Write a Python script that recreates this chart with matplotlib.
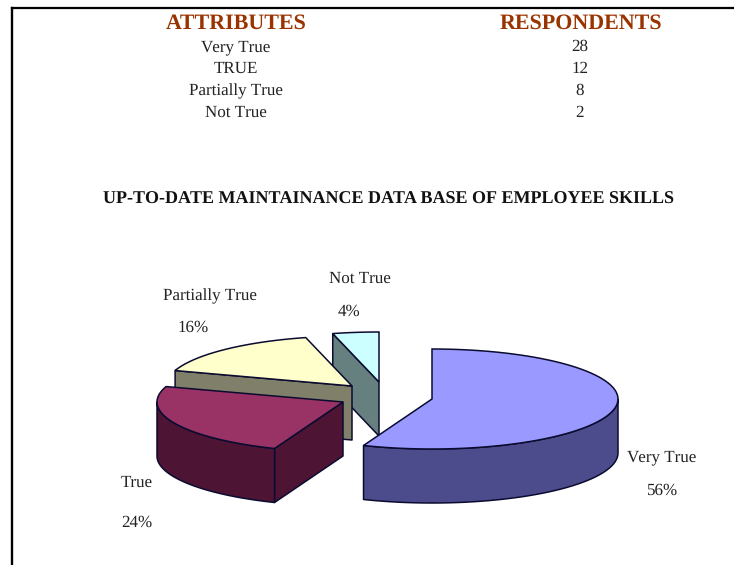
#!/usr/bin/env python
# coding: utf-8

import numpy as np
import matplotlib
matplotlib.use('Agg')
import matplotlib.pyplot as plt
from matplotlib.patches import Polygon

attributes = ['Very True', 'TRUE', 'Partially True', 'Not True']
respondents = [28, 12, 8, 2]
pie_labels = ['Very True', 'True', 'Partially True', 'Not True']
percent_labels = ['56%', '24%', '16%', '4%']

W, H = 734, 565
RX, RY, DEPTH = 186, 50, 54
EDGE = '#0b0b30'

# exploded slice centres, in pixels
apex = [(432, 399), (343, 402), (352, 386), (379, 382)]
top_colors = ['#9999ff', '#993366', '#ffffcc', '#ccffff']
side_colors = ['#4c4c8c', '#4d1533', '#80806a', '#668080']
label_pos = [(662, 457), (137, 483), (210, 296), (360, 279)]
percent_pos = [(662, 491), (137, 523), (193, 328), (349, 312)]

plt.rcParams['font.family'] = ['Liberation Serif', 'DejaVu Serif']
plt.rcParams['text.hinting'] = 'no_hinting'
plt.rcParams['text.hinting_factor'] = 1

fig = plt.figure(figsize=(W / 100, H / 100), dpi=100, facecolor='w')
ax = fig.add_axes([0, 0, 1, 1])
ax.set_xlim(0, W)
ax.set_ylim(H, 0)
ax.set_axis_off()


def rim(cx, cy, a0, a1, n=80):
    # angles run clockwise from 12 o'clock, in degrees
    t = np.radians(np.linspace(a0, a1, n))
    return np.column_stack([cx + RX * np.sin(t), cy - RY * np.cos(t)])


def down(pts):
    return pts + np.array([0, DEPTH])


def wall(pts, color, z):
    poly = np.vstack([pts, down(pts)[::-1]])
    ax.add_patch(Polygon(poly, closed=True, fc=color, ec=EDGE, lw=1.1, zorder=z, joinstyle='round'))


angles = np.cumsum([0] + respondents) / sum(respondents) * 360

# back to front: Not True, Partially True, True, Very True
for i in [3, 2, 1, 0]:
    cx, cy = apex[i]
    a0, a1 = angles[i], angles[i + 1]
    z = 10 - i if i > 0 else 11
    centre = np.array([[cx, cy]])
    start = rim(cx, cy, a0, a0, 1)

    if i > 0:
        wall(np.vstack([start, centre]), side_colors[i], z)
    if i == 1:
        wall(rim(cx, cy, a0, 270), side_colors[i], z)
    if i == 0:
        wall(rim(cx, cy, 90, a1), side_colors[i], z)

    top = np.vstack([centre, rim(cx, cy, a0, a1)])
    ax.add_patch(Polygon(top, closed=True, fc=top_colors[i], ec=EDGE, lw=1.1, zorder=z))

    ax.text(*label_pos[i], pie_labels[i], fontsize=12.5, ha='center', va='center', color='#222222', zorder=20)
    ax.text(*percent_pos[i], percent_labels[i], fontsize=12.5, ha='center', va='center', color='#222222', zorder=20)

# table on top
ax.text(236, 23, 'ATTRIBUTES', fontsize=15.5, fontweight='bold', ha='center', va='center', color='#993300')
ax.text(581, 23, 'RESPONDENTS', fontsize=15.5, fontweight='bold', ha='center', va='center', color='#993300')
for k, (name, val) in enumerate(zip(attributes, respondents)):
    y = 47 + k * 22
    ax.text(236, y, name, fontsize=12.5, ha='center', va='center', color='#222222')
    ax.text(580, y, str(val), fontsize=12.5, ha='center', va='center', color='#222222')

ax.text(389, 199, 'UP-TO-DATE MAINTAINANCE DATA BASE OF EMPLOYEE SKILLS', fontsize=13.05,
        fontweight='bold', ha='center', va='center', color='#111111')

# page frame, open on the right and at the bottom
ax.plot([12, 12], [565, 8], color='k', lw=1.7, zorder=30, solid_capstyle='projecting')
ax.plot([12, 734], [8, 8], color='k', lw=1.6, zorder=30, solid_capstyle='projecting')

fig.savefig('out.png', dpi=100)
